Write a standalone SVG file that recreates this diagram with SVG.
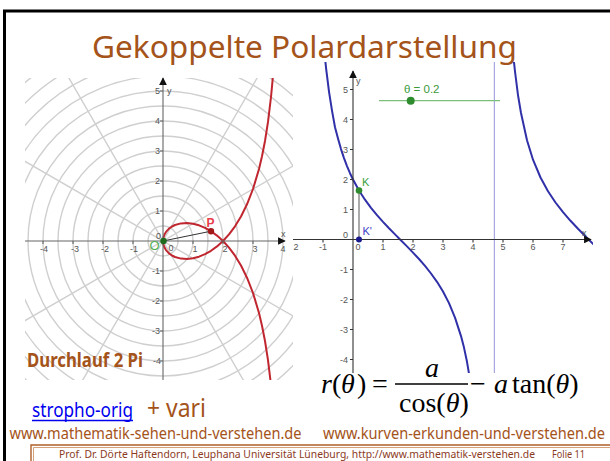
<svg xmlns="http://www.w3.org/2000/svg" width="610" height="461" viewBox="0 0 610 461">
<defs>
<style>
.grid{fill:none;stroke:#cfcfcf;stroke-width:1.4}
.axl{stroke:#666;stroke-width:1.1;fill:none}
.axr{stroke:#333;stroke-width:1.1;fill:none}
.lbl{font-family:"Liberation Sans",Arial,sans-serif;font-size:9px;fill:#555}
.brown{font-family:"Noto Sans","Open Sans",sans-serif;fill:#A4531A}
.math{font-family:"Liberation Serif","Times New Roman",serif;font-size:28px;fill:#000}
.red{fill:none;stroke:#C0262F;stroke-width:2;stroke-linejoin:round;stroke-linecap:round}
.blue{fill:none;stroke:#3030A8;stroke-width:2;stroke-linejoin:round;stroke-linecap:round}
</style>
<clipPath id="cl"><rect x="25" y="78" width="268" height="302"/></clipPath>
<clipPath id="cr"><rect x="293" y="62" width="300" height="311"/></clipPath>
<marker id="arr" viewBox="0 0 10 10" refX="9" refY="5" markerWidth="7" markerHeight="7" orient="auto"><path d="M0,0 L10,5 L0,10 z" fill="#111"/></marker>
</defs>
<rect x="0" y="0" width="610" height="461" fill="#fff"/>
<path d="M4.5,461 V11 H610" stroke="#000" stroke-width="3" fill="none"/>

<g id="title">
<text class="brown" x="92" y="58" font-size="30" textLength="425" lengthAdjust="spacingAndGlyphs">Gekoppelte Polardarstellung</text>
</g>

<g id="polar-plot">
<g clip-path="url(#cl)">
<g class="grid">
<circle cx="163" cy="241" r="15"/><circle cx="163" cy="241" r="30"/><circle cx="163" cy="241" r="45"/><circle cx="163" cy="241" r="60"/><circle cx="163" cy="241" r="75"/><circle cx="163" cy="241" r="90"/><circle cx="163" cy="241" r="105"/><circle cx="163" cy="241" r="120"/><circle cx="163" cy="241" r="135"/><circle cx="163" cy="241" r="150"/><circle cx="163" cy="241" r="165"/><circle cx="163" cy="241" r="180"/><circle cx="163" cy="241" r="195"/><circle cx="163" cy="241" r="210"/>
<path d="M-62.2,371 L388.2,111 M33,466.2 L293,15.8 M33,15.8 L293,466.2 M-62.2,111 L388.2,371"/>
</g>
<path class="red" d="M163,241 L163.3,238 L164.5,234.4 L166,231.9 L169,228.6 L172,226.5 L175,225 L181,223.4 L187,223 L193,223.7 L199,225.3 L205,227.8 L211,231.2 L217,235.6 L223,241 L229,247.6 L235,255.7 L241,265.5 L247,277.7 L253,293 L259,313 L262,325.7 L265,341 L268,360.1 L271,385"/>
<path class="red" d="M163,241 L163.3,244 L164.5,247.6 L166,250.1 L169,253.4 L172,255.5 L175,257 L181,258.6 L187,259 L193,258.3 L199,256.7 L205,254.2 L211,250.8 L217,246.4 L223,241 L229,234.4 L235,226.3 L241,216.5 L247,204.3 L253,189 L259,169 L262,156.3 L265,141 L268,121.9 L271,97 L272.5,81.2 L274,61.9"/>
</g>
<line class="axl" x1="25" y1="241" x2="285" y2="241" marker-end="url(#arr)"/>
<line class="axl" x1="163" y1="380" x2="163" y2="78" marker-end="url(#arr)"/>
<path class="axl" d="M43,241v3 M73,241v3 M103,241v3 M133,241v3 M193,241v3 M223,241v3 M253,241v3 M160,91h3 M160,121h3 M160,151h3 M160,181h3 M160,211h3 M160,271h3 M160,301h3 M160,331h3 M160,361h3"/>
<g class="lbl" text-anchor="middle">
<text x="44" y="252">-4</text><text x="75" y="252">-3</text><text x="105" y="252">-2</text><text x="134" y="252">-1</text>
<text x="195" y="252">1</text><text x="225" y="252">2</text><text x="255" y="252">3</text><text x="283" y="252">4</text>
<text x="171" y="251">0</text>
</g>
<g class="lbl" text-anchor="end">
<text x="160" y="94">5</text><text x="160" y="124">4</text><text x="160" y="154">3</text><text x="160" y="184">2</text><text x="160" y="214">1</text><text x="161" y="239">0</text>
<text x="160" y="274">-1</text><text x="160" y="304">-2</text><text x="160" y="334">-3</text><text x="161" y="364">-4</text>
</g>
<text class="lbl" x="167" y="94" fill="#333">y</text>
<text class="lbl" x="281" y="237" fill="#333">x</text>
<line x1="163" y1="241" x2="211" y2="231.2" stroke="#333" stroke-width="1"/>
<circle cx="211" cy="231.2" r="3.2" fill="#A01818"/>
<text x="206.5" y="227" font-family="Liberation Sans,Arial,sans-serif" font-size="12" font-weight="bold" fill="#E8404A">P</text>
<circle cx="163.5" cy="241" r="3.2" fill="#1E6B1E"/>
<text x="149.5" y="250" font-family="Liberation Sans,Arial,sans-serif" font-size="13" fill="#55B055">O</text>
</g>

<g id="graph-plot">
<line x1="494.4" y1="62" x2="494.4" y2="373" stroke="#A8A8E0" stroke-width="1.2"/>
<g clip-path="url(#cr)">
<path class="blue" d="M324.5,52.6 L326,67.7 L329,91.6 L332,110.6 L335,127.2 L338,138.4 L341,149.1 L344,158.1 L347,166.1 L350,173.2 L353,179.5 L359,190.5 L365,199.7 L371,207.9 L377,215.2 L383,221.9 L389,228.3 L395,234.4 L400.1,239.5 L407,246.4 L413,252.6 L419,259 L425,265.9 L431,273.5 L437,281.8 L443,291.5 L449,303.1 L455,317.6 L461,336.1 L464,347.6 L467,361.8 L470,379.6"/>
<path class="blue" d="M513.5,57.7 L515,71.5 L518,95.1 L521,113 L527,140.3 L533,159.7 L540.5,177.5 L548,191.2 L555.5,202.5 L563,212.2 L570.5,220.8 L578,228.8 L588.6,239.5 L593,243.9 L596,246.9"/>
</g>
<line class="axr" x1="293" y1="239.5" x2="591" y2="239.5" marker-end="url(#arr)"/>
<line class="axr" x1="353" y1="373" x2="353" y2="71" marker-end="url(#arr)"/>
<path class="axr" d="M323,239.5v3 M383,239.5v3 M413,239.5v3 M443,239.5v3 M473,239.5v3 M503,239.5v3 M533,239.5v3 M563,239.5v3 M350,89.5h3 M350,119.5h3 M350,149.5h3 M350,179.5h3 M350,209.5h3 M350,269.5h3 M350,299.5h3 M350,329.5h3 M350,359.5h3"/>
<g class="lbl" text-anchor="middle">
<text x="296" y="250">2</text><text x="323" y="250">-1</text><text x="358" y="250">0</text><text x="383" y="250">1</text><text x="413" y="250">2</text><text x="443" y="250">3</text><text x="473" y="250">4</text><text x="503" y="250">5</text><text x="533" y="250">6</text><text x="563" y="250">7</text>
</g>
<g class="lbl" text-anchor="end">
<text x="348" y="92.5">5</text><text x="348" y="122.5">4</text><text x="348" y="152.5">3</text><text x="348" y="182.5">2</text><text x="348" y="212.5">1</text><text x="348" y="238">0</text>
<text x="348" y="272.5">-1</text><text x="348" y="302.5">-2</text><text x="348" y="332.5">-3</text><text x="348" y="362.5">-4</text>
</g>
<text class="lbl" x="356" y="84" fill="#333">y</text>
<text class="lbl" x="582" y="236" fill="#333">x</text>
<line x1="379" y1="100.7" x2="500" y2="100.7" stroke="#7CC07C" stroke-width="1.2"/>
<circle cx="410.7" cy="100.7" r="4" fill="#2E8B2E"/>
<text x="404" y="93" font-family="Liberation Sans,Arial,sans-serif" font-size="11.5" fill="#3A9A3A">θ = 0.2</text>
<line x1="359" y1="190.5" x2="359" y2="239.5" stroke="#555" stroke-width="1"/>
<circle cx="359" cy="190.5" r="3.3" fill="#2E8B2E"/>
<text x="362" y="186" font-family="Liberation Sans,Arial,sans-serif" font-size="11" fill="#3AA03A">K</text>
<circle cx="359" cy="239.5" r="3" fill="#1A1A8C"/>
<text x="362.5" y="235" font-family="Liberation Sans,Arial,sans-serif" font-size="11" fill="#3D3DC8">K'</text>
</g>

<g id="formula">
<text class="math" y="393"><tspan x="321" font-style="italic">r</tspan><tspan x="332">(</tspan><tspan x="341" font-style="italic">θ</tspan><tspan x="357">)</tspan><tspan x="372">=</tspan></text>
<text class="math" x="425" y="377" font-style="italic">a</text>
<line x1="395" y1="384" x2="468" y2="384" stroke="#000" stroke-width="1.3"/>
<text class="math" y="412"><tspan x="399">cos(</tspan><tspan font-style="italic">θ</tspan><tspan>)</tspan></text>
<text class="math" y="393"><tspan x="470">−</tspan><tspan x="494" font-style="italic">a</tspan><tspan x="512">tan(</tspan><tspan font-style="italic">θ</tspan><tspan>)</tspan></text>
</g>

<g id="captions">
<text class="brown" x="27" y="367" font-size="19" font-weight="bold" textLength="116" lengthAdjust="spacingAndGlyphs">Durchlauf 2 Pi</text>
<text x="32" y="417" font-family="Noto Sans,Open Sans,sans-serif" font-size="19" fill="#0000EE" textLength="101" lengthAdjust="spacingAndGlyphs">stropho-orig</text>
<line x1="32" y1="420.5" x2="133" y2="420.5" stroke="#0000EE" stroke-width="1.3"/>
<text class="brown" x="147" y="417" font-size="25" textLength="59" lengthAdjust="spacingAndGlyphs">+ vari</text>
<text class="brown" x="9.5" y="439" font-size="16.5" textLength="292" lengthAdjust="spacingAndGlyphs">www.mathematik-sehen-und-verstehen.de</text>
<text class="brown" x="323" y="439" font-size="16.5" textLength="282" lengthAdjust="spacingAndGlyphs">www.kurven-erkunden-und-verstehen.de</text>
</g>

<g id="footer">
<path d="M31,461 V445 H610" fill="none" stroke="#B0602A" stroke-width="1.4"/>
<path d="M33.5,461 V447.5 H610" fill="none" stroke="#C88A5A" stroke-width="0.8"/>
<text x="59" y="458" font-family="Noto Sans,Open Sans,sans-serif" font-size="10.5" fill="#8B3A1E" textLength="476" lengthAdjust="spacingAndGlyphs">Prof. Dr. Dörte Haftendorn, Leuphana Universität Lüneburg,  http://www.mathematik-verstehen.de</text>
<text x="552" y="458" font-family="Noto Sans,Open Sans,sans-serif" font-size="10.5" fill="#8B3A1E" textLength="33" lengthAdjust="spacingAndGlyphs">Folie 11</text>
</g>
</svg>
